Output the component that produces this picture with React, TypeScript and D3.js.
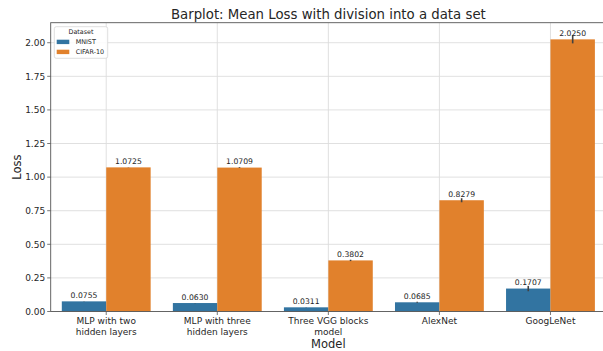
import React from "react";
import * as d3 from "d3";

const models = [
  "MLP with two\nhidden layers",
  "MLP with three\nhidden layers",
  "Three VGG blocks\nmodel",
  "AlexNet",
  "GoogLeNet",
];
const datasets = ["MNIST", "CIFAR-10"];
const mnistLoss = [0.0755, 0.063, 0.0311, 0.0685, 0.1707];
const cifarLoss = [1.0725, 1.0709, 0.3802, 0.8279, 2.025];
// half-widths of the confidence intervals
const mnistErr = [0.001, 0.001, 0.001, 0.004, 0.02];
const cifarErr = [0.001, 0.003, 0.005, 0.015, 0.03];
const yTicks = [0, 0.25, 0.5, 0.75, 1.0, 1.25, 1.5, 1.75, 2.0];

const colors = ["#3274a1", "#e1812c"];
const FONT = "DejaVu Sans, sans-serif";

export default function App() {
  const W = 603;
  const H = 351;
  const m = { left: 50.7, right: 606, top: 22.7, bottom: 311.5 };

  const x = d3.scaleBand<string>().domain(models).range([m.left, m.right]).padding(0);
  const xi = d3
    .scaleBand<string>()
    .domain(datasets)
    .range([0, x.bandwidth()])
    .paddingInner(0)
    .paddingOuter(0.25);
  const y = d3.scaleLinear().domain([0, 2.149]).range([m.bottom, m.top]);

  const series = [
    { name: datasets[0], values: mnistLoss, err: mnistErr, color: colors[0] },
    { name: datasets[1], values: cifarLoss, err: cifarErr, color: colors[1] },
  ];

  return (
    <svg width={W} height={H} style={{ position: "absolute", left: 0, top: 0 }}>
      <rect width={W} height={H} fill="#fff" />
      <defs>
        <clipPath id="plot">
          <rect x={m.left} y={m.top} width={m.right - m.left} height={m.bottom - m.top} />
        </clipPath>
      </defs>
      {/* grid */}
      <g clipPath="url(#plot)">
        {yTicks.map((t) => (
          <line key={t} x1={m.left} x2={m.right} y1={y(t)} y2={y(t)} stroke="#dcdcdc" strokeWidth={0.9} />
        ))}
        {models.map((c) => (
          <line
            key={c}
            x1={x(c)! + x.bandwidth() / 2}
            x2={x(c)! + x.bandwidth() / 2}
            y1={m.top}
            y2={m.bottom}
            stroke="#dcdcdc"
            strokeWidth={0.9}
          />
        ))}
      </g>
      {/* bars */}
      {series.map((s) =>
        models.map((c, i) => {
          const bx = x(c)! + xi(s.name)!;
          const bw = xi.bandwidth();
          const v = s.values[i];
          const cx = bx + bw / 2;
          return (
            <g key={s.name + c}>
              <rect x={bx} y={y(v)} width={bw} height={y(0) - y(v)} fill={s.color} />
              <line
                x1={cx}
                x2={cx}
                y1={y(v - s.err[i])}
                y2={y(v + s.err[i])}
                stroke="#424242"
                strokeWidth={1.6}
              />
              <text
                x={cx}
                y={y(v) - 3.5}
                textAnchor="middle"
                fontFamily={FONT}
                fontSize={7.7}
                fill="#262626"
              >
                {v.toFixed(4)}
              </text>
            </g>
          );
        })
      )}
      {/* spines */}
      <rect
        x={m.left}
        y={m.top}
        width={m.right - m.left}
        height={m.bottom - m.top}
        fill="none"
        stroke="#555"
        strokeWidth={0.9}
      />
      {/* y axis */}
      {yTicks.map((t) => (
        <g key={t}>
          <line x1={m.left - 3.5} x2={m.left} y1={y(t)} y2={y(t)} stroke="#555" strokeWidth={0.8} />
          <text
            x={m.left - 5.5}
            y={y(t) + 3.3}
            textAnchor="end"
            fontFamily={FONT}
            fontSize={9}
            fill="#262626"
          >
            {t.toFixed(2)}
          </text>
        </g>
      ))}
      {/* x axis */}
      {models.map((c) => {
        const cx = x(c)! + x.bandwidth() / 2;
        return (
          <g key={c}>
            <line x1={cx} x2={cx} y1={m.bottom} y2={m.bottom + 3.5} stroke="#555" strokeWidth={0.8} />
            {c.split("\n").map((ln, k) => (
              <text
                key={k}
                x={cx}
                y={324 + k * 11}
                textAnchor="middle"
                fontFamily={FONT}
                fontSize={9}
                fill="#262626"
              >
                {ln}
              </text>
            ))}
          </g>
        );
      })}
      {/* axis labels and title */}
      <text
        x={(m.left + m.right) / 2}
        y={347.5}
        textAnchor="middle"
        fontFamily={FONT}
        fontSize={11.5}
        fill="#262626"
      >
        Model
      </text>
      <text
        transform={`translate(20.5,${(m.top + m.bottom) / 2}) rotate(-90)`}
        textAnchor="middle"
        fontFamily={FONT}
        fontSize={11.5}
        fill="#262626"
      >
        Loss
      </text>
      <text
        x={(m.left + m.right) / 2}
        y={18.5}
        textAnchor="middle"
        fontFamily={FONT}
        fontSize={13.3}
        fill="#262626"
      >
        Barplot: Mean Loss with division into a data set
      </text>
      {/* legend */}
      <g>
        <rect
          x={54.3}
          y={26.7}
          width={53.4}
          height={31.6}
          rx={2}
          fill="#fff"
          fillOpacity={0.85}
          stroke="#d6d6d6"
          strokeWidth={0.8}
        />
        <text x={81} y={34} textAnchor="middle" fontFamily={FONT} fontSize={6.4} fill="#262626">
          Dataset
        </text>
        {series.map((s, i) => (
          <g key={s.name}>
            <rect x={56.7} y={39.7 + i * 10} width={12.6} height={4.4} fill={s.color} />
            <text x={75.7} y={44.3 + i * 10} fontFamily={FONT} fontSize={6.4} fill="#262626">
              {s.name}
            </text>
          </g>
        ))}
      </g>
    </svg>
  );
}
